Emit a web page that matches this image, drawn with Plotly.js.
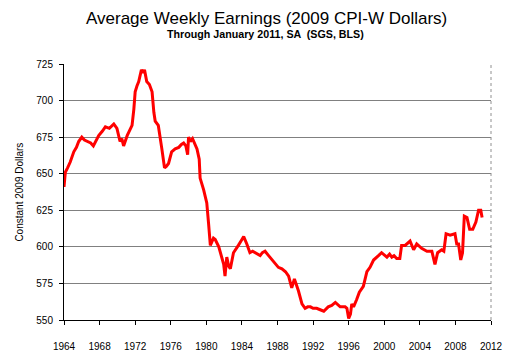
<!DOCTYPE html>
<html>
<head>
<meta charset="utf-8">
<script src="https://cdn.plot.ly/plotly-3.0.1.min.js"></script>
<style>html,body{margin:0;padding:0;background:#fff;}#chart{width:508px;height:357px;}</style>
</head>
<body>
<div id="chart"></div>
<script>
const years = [1964.0,1964.15,1964.4,1964.7,1965.1,1965.4,1965.65,1966.0,1966.3,1966.6,1967.0,1967.3,1967.6,1967.9,1968.3,1968.65,1969.1,1969.6,1969.95,1970.3,1970.5,1970.7,1971.1,1971.4,1971.65,1971.85,1972.0,1972.2,1972.4,1972.7,1972.9,1973.05,1973.3,1973.6,1973.9,1974.1,1974.25,1974.6,1974.8,1975.0,1975.3,1975.5,1975.75,1976.1,1976.5,1976.9,1977.2,1977.45,1977.7,1977.9,1978.0,1978.2,1978.45,1978.7,1978.95,1979.2,1979.3,1979.7,1980.05,1980.25,1980.45,1980.8,1981.0,1981.4,1981.75,1981.95,1982.1,1982.3,1982.5,1982.7,1983.05,1983.3,1983.6,1983.9,1984.2,1984.55,1984.9,1985.2,1985.5,1985.8,1986.05,1986.3,1986.6,1987.0,1987.3,1987.55,1988.1,1988.5,1988.9,1989.25,1989.6,1989.9,1990.1,1990.35,1990.75,1991.1,1991.4,1991.7,1992.0,1992.4,1992.8,1993.2,1993.7,1994.1,1994.5,1995.05,1995.6,1995.8,1996.0,1996.2,1996.35,1996.55,1996.9,1997.2,1997.65,1998.05,1998.4,1998.8,1999.35,1999.7,2000.3,2000.6,2000.85,2001.1,2001.4,2001.75,2001.95,2002.35,2002.9,2003.3,2003.65,2004.2,2004.8,2005.35,2005.7,2006.0,2006.45,2006.7,2006.95,2007.4,2007.95,2008.15,2008.35,2008.6,2008.8,2009.0,2009.3,2009.6,2009.95,2010.3,2010.6,2010.85,2011.0];
const earnings = [641,651,654,658,665,668,672,675,673,672,671,669,673,676,679,682,681,684,681,672,674,669,676,680,683,694,706,710,713,721,719,721,713,711,706,692,686,683,676,667,654,655,657,665,667,668,670,671,669,663,675,672,674,671,667,660,647,639,630,616,601,606,605,600,593,588,580,593,587,585,596,598,601,604,607,602,596,597,596,595,594,596,597,594,592,590,586,585,583,580,572,578,575,570,561,558,559,559,558,558,557,556,559,560,562,559,559,558,551,554,561,559,564,569,573,583,586,591,594,596,593,595,593,594,592,592,601,601,604,598,602,599,597,597,588,596,598,597,609,608,609,602,602,591,596,621,620,612,612,617,625,625,620];
const xTicks = [1964,1968,1972,1976,1980,1984,1988,1992,1996,2000,2004,2008,2012];
const yTicks = [550,575,600,625,650,675,700,725];

const trace = {x: years, y: earnings, type: 'scatter', mode: 'lines',
  line: {color: '#ff0000', width: 3}, hoverinfo: 'skip'};

const font = 'Liberation Sans, Arial, sans-serif';
const layout = {
  width: 508, height: 357,
  margin: {l: 63.5, r: 16.5, t: 64, b: 37, pad: 0},
  paper_bgcolor: '#ffffff', plot_bgcolor: '#ffffff',
  showlegend: false,
  font: {family: font, color: '#000', size: 10},
  xaxis: {range: [1964, 2012], tickvals: xTicks, ticktext: xTicks.map(String),
    showgrid: false, zeroline: false, showline: true, linecolor: '#000', linewidth: 1,
    ticks: 'outside', ticklen: 4, tickcolor: '#000', ticklabelstandoff: 13,
    tickfont: {size: 10, family: font}},
  yaxis: {range: [550, 725], tickvals: yTicks, ticktext: yTicks.map(String),
    showgrid: true, gridcolor: '#808080', gridwidth: 1, zeroline: false,
    showline: true, linecolor: '#000', linewidth: 1,
    ticks: 'outside', ticklen: 4, tickcolor: '#000', ticklabelstandoff: 4,
    tickfont: {size: 10, family: font}},
  shapes: [{type: 'line', xref: 'paper', yref: 'paper', x0: 1, x1: 1, y0: 0, y1: 1,
    line: {color: '#909090', width: 1, dash: 'dot'}}],
  annotations: [
    {text: 'Average Weekly Earnings (2009 CPI-W Dollars)', xref: 'paper', yref: 'paper',
     x: (266 - 63.5) / 428, y: 1 + (64 - 18) / 256, xanchor: 'center', yanchor: 'middle',
     showarrow: false, font: {size: 17, family: font, color: '#000'}},
    {text: '<b>Through January 2011, SA  (SGS, BLS)</b>', xref: 'paper', yref: 'paper',
     x: (265.5 - 63.5) / 428, y: 1 + (64 - 33.5) / 256, xanchor: 'center', yanchor: 'middle',
     showarrow: false, font: {size: 10.7, family: font, color: '#000'}},
    {text: 'Constant 2009 Dollars', xref: 'paper', yref: 'paper', textangle: -90,
     x: (18 - 63.5) / 428, y: 0.5, xanchor: 'center', yanchor: 'middle',
     showarrow: false, font: {size: 10, family: font, color: '#000'}}
  ]
};
Plotly.newPlot('chart', [trace], layout, {staticPlot: true, displayModeBar: false});
</script>
</body>
</html>
